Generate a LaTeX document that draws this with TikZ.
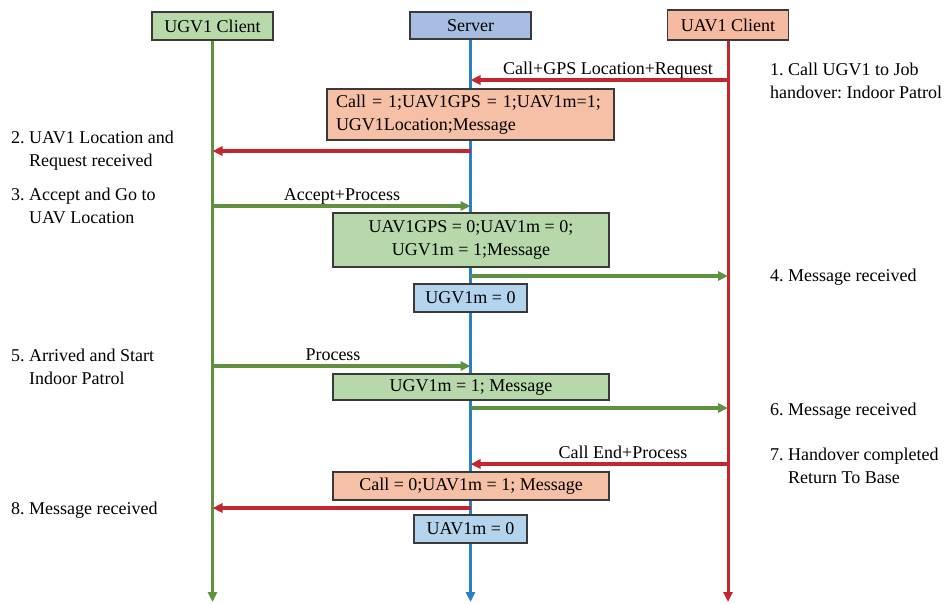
\documentclass[tikz,border=0pt]{standalone}
\usepackage{fontspec}
\setmainfont{Liberation Serif}
\newfontfamily\diagfont{Liberation Serif}
\usetikzlibrary{arrows.meta}

\definecolor{ugvline}{HTML}{5E9140}
\definecolor{srvline}{HTML}{2A80C8}
\definecolor{uavline}{HTML}{C3262E}
\definecolor{ugvhead}{HTML}{B8D9AA}
\definecolor{srvhead}{HTML}{A7BDE2}
\definecolor{uavhead}{HTML}{F5BAA0}
\definecolor{orangenote}{HTML}{F5C0A5}
\definecolor{greennote}{HTML}{B6D8AA}
\definecolor{bluenote}{HTML}{B4D4EE}
\definecolor{edge}{HTML}{3A3A3A}

\tikzset{
  head/.style={draw=edge, line width=1.3pt, minimum width=121pt, inner sep=0pt},
  note/.style={draw=edge, line width=1.3pt, inner sep=0pt, align=center},
  life/.style={line width=3pt, -{Triangle[length=10pt,width=9pt]}},
  msg/.style={line width=3.2pt, -{Triangle[length=10pt,width=9pt]}},
  lbl/.style={inner sep=0pt, align=left, anchor=west},
  msgtext/.style={inner sep=0pt, anchor=base},
}

\begin{document}
\begin{tikzpicture}[x=1pt, y=-1pt, font=\diagfont\fontsize{18}{23}\selectfont]
\useasboundingbox (0,0) rectangle (951,603);

% participants
\node[head, fill=ugvhead, minimum height=28pt] (hUGV) at (212.5,26) {UGV1 Client};
\node[head, fill=srvhead, minimum height=27pt] (hSrv) at (470.5,25.5) {Server};
\node[head, fill=uavhead, minimum height=30pt] (hUAV) at (728,25) {UAV1 Client};

% lifeline ends
\coordinate (eUGV) at (212.5,602);
\coordinate (eSrv) at (470.5,602);
\coordinate (eUAV) at (728,602);

\draw[life, ugvline] (hUGV.south) -- (eUGV);
\draw[life, srvline] (hSrv.south) -- (eSrv);
\draw[life, uavline] (hUAV.south) -- (eUAV);

% server state boxes
\node[note, fill=orangenote, minimum width=287pt, minimum height=51pt,
      text width=269pt, align=left] (n1) at (470.5,114.5)
  {Call = 1;UAV1GPS = 1;UAV1m=1;\\UGV1Location;Message};
\node[note, fill=greennote, minimum width=276pt, minimum height=54pt] (n2) at (471,240)
  {UAV1GPS = 0;UAV1m = 0;\\UGV1m = 1;Message};
\node[note, fill=bluenote, minimum width=113pt, minimum height=28pt] (n3) at (470.5,298)
  {UGV1m = 0};
\node[note, fill=greennote, minimum width=276pt, minimum height=26pt] (n4) at (471,387)
  {UGV1m = 1; Message};
\node[note, fill=orangenote, minimum width=276pt, minimum height=28pt] (n5) at (471,486)
  {Call = 0;UAV1m = 1; Message};
\node[note, fill=bluenote, minimum width=113pt, minimum height=28pt] (n6) at (470.5,529)
  {UAV1m = 0};

% messages
\draw[msg, uavline] (hUAV.south |- 0,80) -- (hSrv.south |- 0,80);
\draw[msg, uavline] (hSrv.south |- 0,151) -- (hUGV.south |- 0,151);
\draw[msg, ugvline] (hUGV.south |- 0,206) -- (hSrv.south |- 0,206);
\draw[msg, ugvline] (hSrv.south |- 0,276) -- (hUAV.south |- 0,276);
\draw[msg, ugvline] (hUGV.south |- 0,366) -- (hSrv.south |- 0,366);
\draw[msg, ugvline] (hSrv.south |- 0,408) -- (hUAV.south |- 0,408);
\draw[msg, uavline] (hUAV.south |- 0,464) -- (hSrv.south |- 0,464);
\draw[msg, uavline] (hSrv.south |- 0,508) -- (hUGV.south |- 0,508);

% message captions
\node[msgtext] (c1) at (608,74) {Call+GPS Location+Request};
\node[msgtext] (c3) at (342,200) {Accept+Process};
\node[msgtext] (c5) at (333,360) {Process};
\node[msgtext] (c7) at (623,458) {Call End+Process};

% step descriptions, UGV side
\node[lbl] (s2) at (11,151) {2.\ UAV1 Location and\\\hphantom{2.\ }Request received};
\node[lbl] (s3) at (11,206) {3.\ Accept and Go to\\\hphantom{3.\ }UAV Location};
\node[lbl] (s5) at (11,367) {5.\ Arrived and Start\\\hphantom{5.\ }Indoor Patrol};
\node[lbl] (s8) at (11,510) {8.\ Message received};

% step descriptions, UAV side
\node[lbl] (s1) at (770,81) {1.\ Call UGV1 to Job\\handover:\ Indoor Patrol};
\node[lbl] (s4) at (770,277) {4.\ Message received};
\node[lbl] (s6) at (770,411) {6.\ Message received};
\node[lbl] (s7) at (770,466) {7.\ Handover completed\\\hphantom{7.\ }Return To Base};
\end{tikzpicture}
\end{document}
